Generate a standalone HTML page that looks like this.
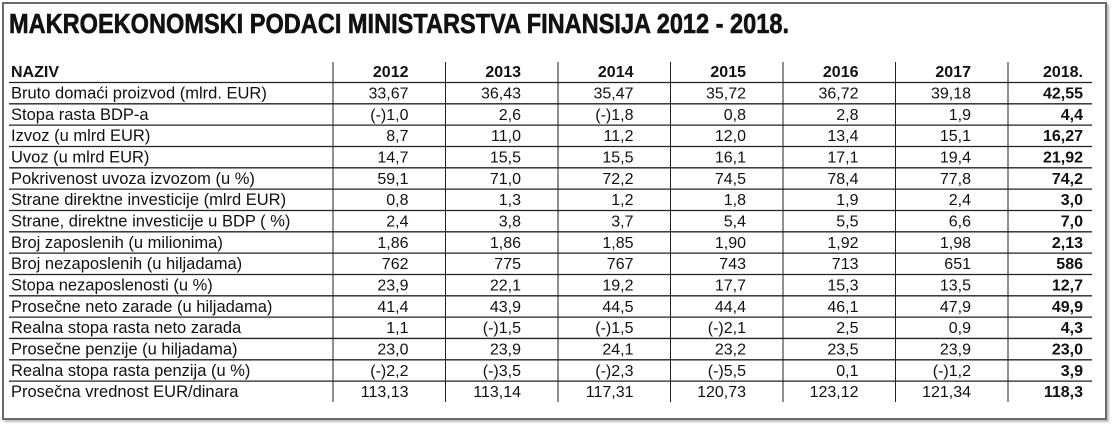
<!DOCTYPE html>
<html><head><meta charset="utf-8">
<style>
html,body{margin:0;padding:0;background:#fff;}
#wrap{position:relative;width:1116px;height:438px;overflow:hidden;background:#fff;}
#frame{position:absolute;left:2px;top:2px;width:1101px;height:414px;border:2px solid #6a6a6a;box-shadow:2px 2px 2px #bbb;}
svg{position:absolute;left:0;top:0;}
text{font-family:"Liberation Sans",sans-serif;fill:#111;}
</style></head><body>
<div id="wrap">
<div id="frame"></div>
<svg id="s" width="1116" height="438">
<text x="9" y="33" font-size="28" font-weight="bold" stroke="#111" stroke-width="0.6" textLength="780" lengthAdjust="spacingAndGlyphs">MAKROEKONOMSKI PODACI MINISTARSTVA FINANSIJA 2012 - 2018.</text>
</svg>
</div>
<script>
const years=["2012","2013","2014","2015","2016","2017","2018."];
const labels=["Bruto domaći proizvod (mlrd. EUR)","Stopa rasta BDP-a","Izvoz (u mlrd EUR)","Uvoz (u mlrd EUR)","Pokrivenost uvoza izvozom (u %)","Strane direktne investicije (mlrd EUR)","Strane, direktne investicije u BDP ( %)","Broj zaposlenih (u milionima)","Broj nezaposlenih (u hiljadama)","Stopa nezaposlenosti (u %)","Prosečne neto zarade (u hiljadama)","Realna stopa rasta neto zarada","Prosečne penzije (u hiljadama)","Realna stopa rasta penzija (u %)","Prosečna vrednost EUR/dinara"];
const rows=[
["33,67","36,43","35,47","35,72","36,72","39,18","42,55"],
["(-)1,0","2,6","(-)1,8","0,8","2,8","1,9","4,4"],
["8,7","11,0","11,2","12,0","13,4","15,1","16,27"],
["14,7","15,5","15,5","16,1","17,1","19,4","21,92"],
["59,1","71,0","72,2","74,5","78,4","77,8","74,2"],
["0,8","1,3","1,2","1,8","1,9","2,4","3,0"],
["2,4","3,8","3,7","5,4","5,5","6,6","7,0"],
["1,86","1,86","1,85","1,90","1,92","1,98","2,13"],
["762","775","767","743","713","651","586"],
["23,9","22,1","19,2","17,7","15,3","13,5","12,7"],
["41,4","43,9","44,5","44,4","46,1","47,9","49,9"],
["1,1","(-)1,5","(-)1,5","(-)2,1","2,5","0,9","4,3"],
["23,0","23,9","24,1","23,2","23,5","23,9","23,0"],
["(-)2,2","(-)3,5","(-)2,3","(-)5,5","0,1","(-)1,2","3,9"],
["113,13","113,14","117,31","120,73","123,12","121,34","118,3"]];
const s=document.getElementById('s');const NS="http://www.w3.org/2000/svg";
function mk(tag,attrs,txt){const e=document.createElementNS(NS,tag);for(const k in attrs)e.setAttribute(k,attrs[k]);if(txt!==undefined)e.textContent=txt;s.appendChild(e);return e;}
const left=9,right=1092,hdrLine=82.5,rowH=21.33,seps=[];
for(let k=0;k<7;k++)seps.push(333+112.5*k);
function rightX(c){return c<6?seps[c+1]-37:1083;}
seps.forEach((x,i)=>{const l=mk('line',{x1:x,x2:x,y1:62,y2:402,stroke:'#222','stroke-width':1});

});
for(let r=0;r<15;r++){const y=hdrLine+r*rowH;const l=mk('line',{x1:left,x2:right,y1:y,y2:y,stroke:'#222','stroke-width':1.3});

}
let h=mk('text',{x:11,y:77,'font-size':16,'font-weight':'bold'},"NAZIV");


years.forEach((y,c)=>{const t=mk('text',{x:rightX(c),y:77,'font-size':16,'font-weight':'bold','text-anchor':'end'},y);

});
labels.forEach((lab,r)=>{const base=hdrLine+r*rowH+16;
const t=mk('text',{x:11,y:base,'font-size':16.5},lab);


rows[r].forEach((v,c)=>{const a={x:rightX(c),y:base,'font-size':16,'text-anchor':'end'};if(c==6)a['font-weight']='bold';
const e=mk('text',a,v);

});});
</script>
</body></html>
